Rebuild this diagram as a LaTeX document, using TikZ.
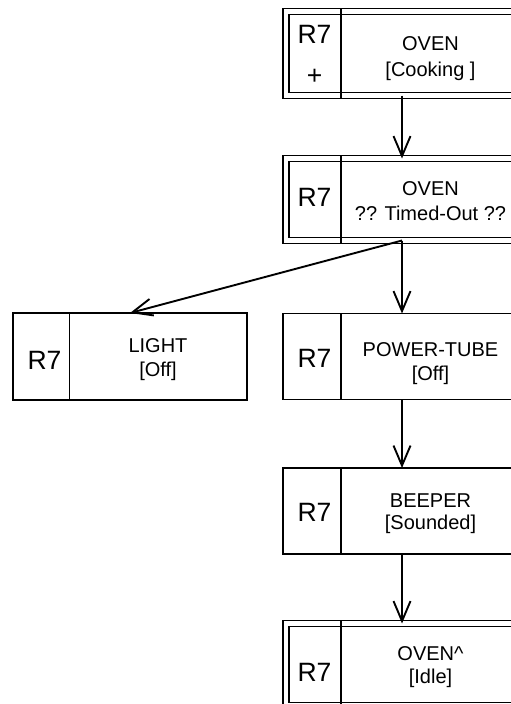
\documentclass[tikz,border=0pt]{standalone}
\usepackage{fontspec}
\setmainfont{Liberation Sans}
\usetikzlibrary{arrows.meta}
\begin{document}
\begin{tikzpicture}[x=1pt,y=-1pt,
  lw/.style={line width=1.9pt},
  sbox/.style={draw, lw, rectangle, minimum width=238pt, minimum height=86pt, inner sep=0pt, outer sep=0pt},
  dbox/.style={draw, lw, double, double distance=4.1pt, rectangle, minimum width=232pt, minimum height=82pt, inner sep=0pt, outer sep=0pt},
  rlab/.style={anchor=base, inner sep=0pt, font=\fontsize{26.5}{30}\selectfont},
  tlab/.style={anchor=base, inner sep=0pt, font=\fontsize{20}{24}\selectfont},
  arr/.style={lw, -{Straight Barb[length=20pt,width=17pt]}}]
\useasboundingbox (0,0) rectangle (511,704);
\clip (0,0) rectangle (511,704);
% boxes
\node[dbox, minimum height=84pt] (oven1) at (402,53.5) {};
\node[dbox] (oven2) at (402,199.5) {};
\node[sbox, minimum width=234pt, minimum height=87pt] (light) at (130,356.5) {};
\node[sbox] (tube) at (402,356.5) {};
\node[sbox] (beeper) at (402,511) {};
\node[dbox] (oven3) at (402,664.5) {};
% dividers
\draw[lw] (341,8.5) -- (341,98.5);
\draw[lw] (341,155.5) -- (341,243.5);
\draw[lw] (69.5,313) -- (69.5,400);
\draw[lw] (341,313.5) -- (341,399.5);
\draw[lw] (341,468) -- (341,554);
\draw[lw] (341,620.5) -- (341,708.5);
% texts
\node[rlab] (r1) at (314.5,43) {R7};
\node[rlab] (p1) at (314.5,84) {+};
\node[tlab] (n1) at (430.5,50.7) {OVEN};
\node[tlab] (s1) at (430.5,76) {[Cooking ]};
\node[rlab] (r2) at (314.5,206.7) {R7};
\node[tlab] (n2) at (430.5,195) {OVEN};
\node[tlab] (s2) at (430.5,220) {?? Timed-Out ??};
\node[rlab] (r3) at (44.5,369) {R7};
\node[tlab] (n3) at (158,352) {LIGHT};
\node[tlab] (s3) at (158,376) {[Off]};
\node[rlab] (r4) at (314.5,367) {R7};
\node[tlab] (n4) at (430.5,356) {POWER-TUBE};
\node[tlab] (s4) at (430.5,380) {[Off]};
\node[rlab] (r5) at (314.5,521.7) {R7};
\node[tlab] (n5) at (430.5,507) {BEEPER};
\node[tlab] (s5) at (430.5,529) {[Sounded]};
\node[rlab] (r6) at (314.5,681.7) {R7};
\node[tlab] (n6) at (430.5,660.7) {OVEN\textasciicircum};
\node[tlab] (s6) at (430.5,683) {[Idle]};
% arrows
\draw[arr] (oven1.south) -- (oven2.north);
\draw[arr] (oven2.south) -- (tube.north);
\draw[arr] (oven2.south) -- (light.north);
\draw[arr] (tube.south) -- (beeper.north);
\draw[arr] (beeper.south) -- (oven3.north);
\end{tikzpicture}
\end{document}
